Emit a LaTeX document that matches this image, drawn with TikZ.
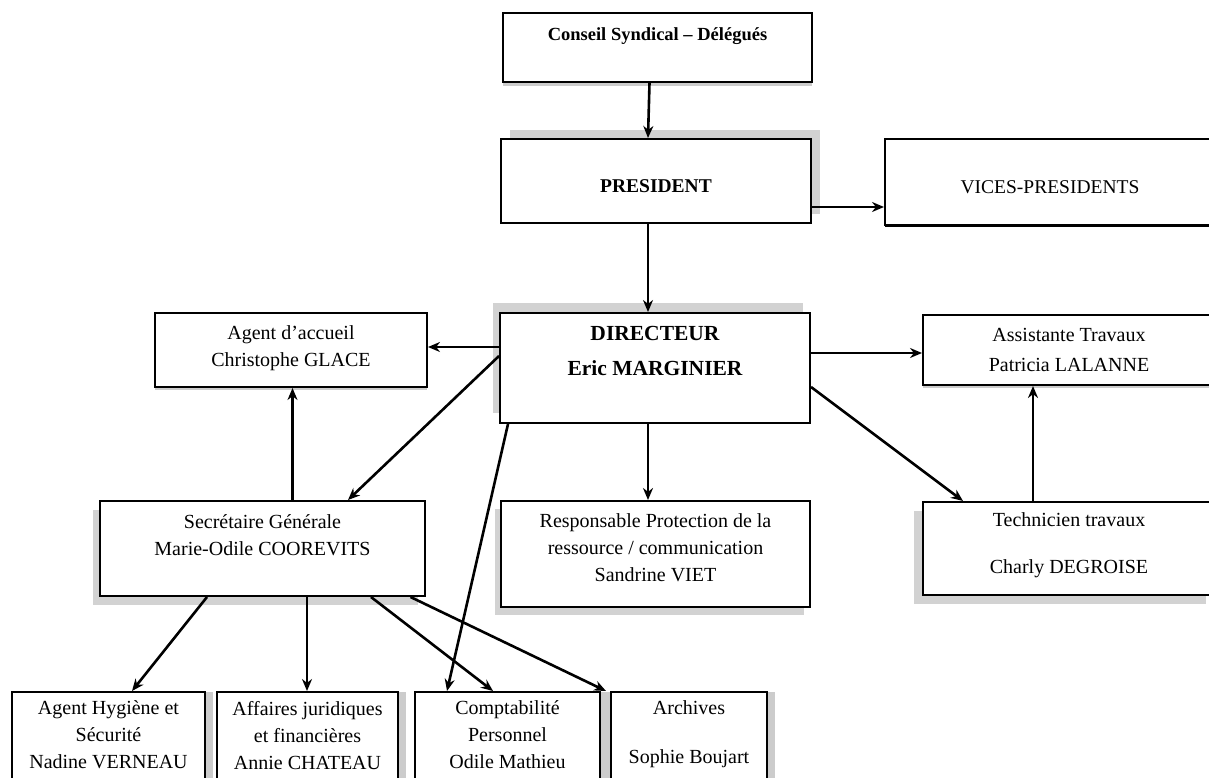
\documentclass[tikz,border=0pt]{standalone}
\usepackage{fontspec}
\setmainfont{Liberation Serif}
\usetikzlibrary{arrows.meta,shadows}

\begin{document}
\begin{tikzpicture}[x=1pt, y=-1pt, >={Stealth[length=12pt,width=10pt]}, line width=2.6pt, every node/.style={font=\fontsize{20}{27}\selectfont}]
\tikzstyle{block}=[rectangle, draw, fill=white, align=center, line width=2pt, inner sep=2pt]
\tikzstyle{lowbox}=[block, anchor=north, inner ysep=9pt, drop shadow={shadow xshift=8pt, shadow yshift=0pt, fill=gray!40, opacity=1}]
\useasboundingbox (0,0) rectangle (1209,778);
\clip (0,0) rectangle (1209,778);
\node[block, minimum width=309, minimum height=69, font=\bfseries\fontsize{18.5}{27}\selectfont, drop shadow={shadow xshift=0pt, shadow yshift=-4pt, fill=gray!40, opacity=1}] (conseil) at (657.5,47.5) {Conseil Syndical – Délégués\\~};
\node[block, minimum width=310, minimum height=84, font=\bfseries\fontsize{19.5}{24}\selectfont, drop shadow={shadow xshift=9pt, shadow yshift=9pt, fill=gray!35, opacity=1}] (president) at (656,181) {~\\PRESIDENT};
\node[block, minimum width=330, minimum height=86, font=\fontsize{19.5}{24}\selectfont, drop shadow={shadow xshift=0pt, shadow yshift=-2pt, fill=black, opacity=1}] (vices) at (1050,182) {~\\VICES-PRESIDENTS};
\node[block, minimum width=310, minimum height=110, font=\bfseries\fontsize{21.5}{35}\selectfont, drop shadow={shadow xshift=-7pt, shadow yshift=10pt, fill=gray!35, opacity=1}] (directeur) at (655,368) {DIRECTEUR\\Eric MARGINIER\\~};
\node[block, minimum width=272, minimum height=74, drop shadow={shadow xshift=0pt, shadow yshift=-3pt, fill=gray!40, opacity=1}] (agent) at (291,350) {Agent d’accueil\\Christophe GLACE\\[-20pt]~};
\node[block, minimum width=292, minimum height=70, font=\fontsize{20}{30}\selectfont, drop shadow={shadow xshift=0pt, shadow yshift=-3pt, fill=gray!40, opacity=1}] (assistante) at (1069,350) {Assistante Travaux\\Patricia LALANNE};
\node[block, minimum width=325, minimum height=95, drop shadow={shadow xshift=-7pt, shadow yshift=-9pt, fill=gray!35, opacity=1}] (secretaire) at (262.5,548.5) {Secrétaire Générale\\Marie-Odile COOREVITS\\~};
\node[block, minimum width=309, minimum height=106, drop shadow={shadow xshift=-6pt, shadow yshift=-8pt, fill=gray!35, opacity=1}] (responsable) at (655.5,554) {Responsable Protection de la\\ressource / communication\\Sandrine VIET\\[-15pt]~};
\node[block, minimum width=292, minimum height=93, drop shadow={shadow xshift=-9pt, shadow yshift=-9pt, fill=gray!35, opacity=1}] (technicien) at (1069,548.5) {Technicien travaux\\[20pt]Charly DEGROISE\\[-17pt]~};
\node[lowbox, minimum width=193] (hygiene) at (108.5,691) {Agent Hygiène et\\Sécurité\\Nadine VERNEAU\\~};
\node[lowbox, minimum width=181] (affaires) at (307.5,691) {Affaires juridiques\\et financières\\Annie CHATEAU\\~};
\node[lowbox, minimum width=185] (compta) at (507.5,691) {Comptabilité\\Personnel\\Odile Mathieu\\~};
\node[lowbox, minimum width=156, drop shadow={shadow xshift=-6pt, shadow yshift=0pt, fill=gray!40, opacity=1}] (archives) at (689,691) {Archives\\[22pt]Sophie Boujart\\~};
\draw[->] ([xshift=-8pt]conseil.south) -- ([xshift=-8pt]president.north);
\draw[->] ([yshift=-26pt]president.east) coordinate (p1) -- (p1 -| vices.west);
\draw[->] ([xshift=-8pt]president.south) -- ([xshift=-7pt]directeur.north);
\draw[->] ([yshift=21pt]directeur.west) coordinate (d1) -- (d1 -| agent.east);
\draw[->] ([yshift=15pt]directeur.east) coordinate (d2) -- (d2 -| assistante.west);
\draw[->] ([yshift=12pt]directeur.west) -- ([xshift=85.5pt]secretaire.north);
\draw[->] ([xshift=-147pt]directeur.south) -- ([xshift=-60.5pt]compta.north);
\draw[->] ([xshift=-7pt]directeur.south) -- ([xshift=-7.5pt]responsable.north);
\draw[->] ([yshift=-19pt]directeur.east) -- ([xshift=-106pt]technicien.north);
\draw[->] ([xshift=-36pt]technicien.north) coordinate (t1) -- (t1 |- assistante.south);
\draw[->] ([xshift=30pt]secretaire.north) coordinate (s1) -- (s1 |- agent.south);
\draw[->] ([xshift=-55.5pt]secretaire.south) -- ([xshift=23.5pt]hygiene.north);
\draw[->] ([xshift=44.5pt]secretaire.south) coordinate (s2) -- (s2 |- affaires.north);
\draw[->] ([xshift=108.5pt]secretaire.south) -- ([xshift=-14.5pt]compta.north);
\draw[->] ([xshift=148pt]secretaire.south) -- ([xshift=-4pt]archives.north west);
\end{tikzpicture}
\end{document}
